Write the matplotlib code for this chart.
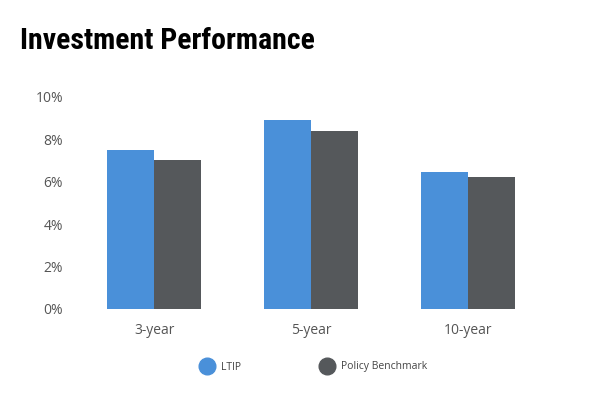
import numpy as np
import matplotlib
matplotlib.use('Agg')
import matplotlib.pyplot as plt
from matplotlib.lines import Line2D

periods = ['3-year', '5-year', '10-year']
ltip = [7.5, 8.9, 6.45]
benchmark = [7.0, 8.4, 6.2]
yticks = [0, 2, 4, 6, 8, 10]

blue = '#4a90d9'
grey = '#55585b'

fig = plt.figure(figsize=(6, 4), dpi=100)
ax = fig.add_axes([0.126, 0.228, 0.785, 0.53])

x = np.arange(len(periods))
w = 0.3
ax.bar(x - w / 2, ltip, w, color=blue, label='LTIP')
ax.bar(x + w / 2, benchmark, w, color=grey, label='Policy Benchmark')

ax.set_xlim(-0.5, 2.5)
ax.set_ylim(0, 10)
ax.set_yticks(yticks)
ax.set_yticklabels([f'{t}%' for t in yticks], fontsize=10, color='#555555',
                   family='Open Sans')
ax.set_xticks(x)
ax.set_xticklabels(periods, fontsize=10, color='#555555', family='Open Sans')
ax.tick_params(axis='x', length=0, pad=10)
ax.tick_params(axis='y', length=0, pad=9)
for s in ax.spines.values():
    s.set_visible(False)

fig.text(0.033, 0.877, 'Investment Performance', fontsize=21.5, weight='bold',
         family=['Roboto Condensed', 'DejaVu Sans'], color='black')

handles = [
    Line2D([], [], marker='o', ls='', markersize=12, color=blue),
    Line2D([], [], marker='o', ls='', markersize=12, color=grey),
]
fig.legend(handles, ['LTIP', 'Policy Benchmark'], loc='center',
           bbox_to_anchor=(0.523, 0.0825), ncol=2, frameon=False,
           prop={'family': 'Open Sans', 'size': 7.5}, labelcolor='#444444',
           handletextpad=0.75, columnspacing=7.7, handlelength=1.2)

fig.savefig('out.png', dpi=100)
